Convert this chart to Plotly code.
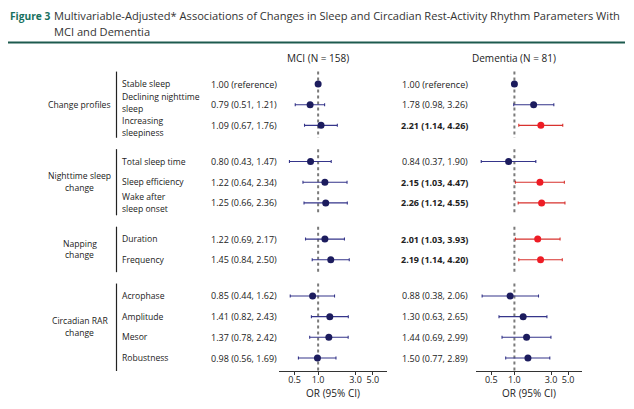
import plotly.graph_objects as go

# ---------------- data ----------------
group_labels = ["Change profiles", "Nighttime sleep<br>change", "Napping<br>change", "Circadian RAR<br>change"]
row_labels = ["Stable sleep", "Declining nighttime<br>sleep", "Increasing<br>sleepiness",
              "Total sleep time", "Sleep efficiency", "Wake after<br>sleep onset",
              "Duration", "Frequency",
              "Acrophase", "Amplitude", "Mesor", "Robustness"]
row_group = [0, 0, 0, 1, 1, 1, 2, 2, 3, 3, 3, 3]
reference_row = [True] + [False] * 11

mci_or = [1.00, 0.79, 1.09, 0.80, 1.22, 1.25, 1.22, 1.45, 0.85, 1.41, 1.37, 0.98]
mci_lo = [None, 0.51, 0.67, 0.43, 0.64, 0.66, 0.69, 0.84, 0.44, 0.82, 0.78, 0.56]
mci_hi = [None, 1.21, 1.76, 1.47, 2.34, 2.36, 2.17, 2.50, 1.62, 2.43, 2.42, 1.69]

dem_or = [1.00, 1.78, 2.21, 0.84, 2.15, 2.26, 2.01, 2.19, 0.88, 1.30, 1.44, 1.50]
dem_lo = [None, 0.98, 1.14, 0.37, 1.03, 1.12, 1.03, 1.14, 0.38, 0.63, 0.69, 0.77]
dem_hi = [None, 3.26, 4.26, 1.90, 4.47, 4.55, 3.93, 4.20, 2.06, 2.65, 2.99, 2.89]

panel_titles = ["MCI (N = 158)", "Dementia (N = 81)"]
tick_vals = [0.5, 1.0, 3.0, 5.0]
tick_text = ["0.5", "1.0", "3.0", "5.0"]
null_value = 1.0
axis_title = "OR (95% CI)"
fig_label = "Figure 3"
fig_title_lines = ["Multivariable-Adjusted* Associations of Changes in Sleep and Circadian "
                   "Rest-Activity Rhythm Parameters With",
                   "MCI and Dementia"]

# ---------------- layout helpers ----------------
W, H = 634, 409
OFF = 8  # page body margin
GROUP_GAP = 0.75
ypos = [i + g * GROUP_GAP for i, g in enumerate(row_group)]

NAVY = "#1c1c5e"
NAVY_LINE = "#35358a"
RED = "#ee1c25"
RED_LINE = "#d8322e"
TXT = "#222222"
FONT = "Open Sans"


def px_x(p):
    return (p - OFF) / W


def px_y(p):
    return (H - (p - OFF)) / H


y_top_px, y_bot_px = 66, 371
row0_px, step_px = 84, (358 - 84) / ypos[-1]
y_range = [(y_bot_px - row0_px) / step_px, (y_top_px - row0_px) / step_px]
LINE_HALF = 5.9 / step_px   # half line spacing for two-line labels, in row units
NUDGE = 1.6 / step_px       # separation nudge for adjacent two-line labels

fig = go.Figure()
annotations = []
shapes = []


def add_label(text, x, y, anchor, size=8.6):
    lines = text.split("<br>")
    n = len(lines)
    for k, ln in enumerate(lines):
        dy = (k - (n - 1) / 2) * 2 * LINE_HALF
        annotations.append(dict(
            x=x, xref="paper", y=y + dy, yref="y", text=ln, showarrow=False,
            xanchor=anchor, yanchor="middle", borderpad=0,
            font=dict(family=FONT, size=size, color=TXT)))


panels = [
    ("x", mci_or, mci_lo, mci_hi, (279, 387), 278),
    ("x2", dem_or, dem_lo, dem_hi, (476, 582), 469),
]

# dotted null lines per group (drawn first, beneath points)
group_spans = []
for g in range(len(group_labels)):
    ys = [ypos[i] for i in range(len(ypos)) if row_group[i] == g]
    y0, y1 = min(ys) - 0.6, max(ys) + 0.6
    if g == len(group_labels) - 1:
        y1 = y_range[0]
    group_spans.append((y0, y1, (min(ys) + max(ys)) / 2))

for xa, *_ in panels:
    xs, ys = [], []
    for y0, y1, _ in group_spans:
        xs += [null_value, null_value, None]
        ys += [y0, y1, None]
    fig.add_trace(go.Scatter(x=xs, y=ys, mode="lines", xaxis=xa, yaxis="y",
                             line=dict(color="#7a7a7a", width=2, dash="dot"),
                             showlegend=False, hoverinfo="skip"))

for pi, (xa, est, lo, hi, dom, txt_right) in enumerate(panels):
    sig = [(l is not None and l > 1) for l in lo]
    for is_sig in (False, True):
        idx = [i for i in range(len(est)) if sig[i] == is_sig]
        if not idx:
            continue
        fig.add_trace(go.Scatter(
            x=[est[i] for i in idx],
            y=[ypos[i] for i in idx],
            mode="markers",
            xaxis=xa, yaxis="y",
            marker=dict(color=RED if is_sig else NAVY, size=7),
            error_x=dict(
                type="data", symmetric=False,
                array=[(hi[i] - est[i]) if hi[i] is not None else None for i in idx],
                arrayminus=[(est[i] - lo[i]) if lo[i] is not None else None for i in idx],
                color=RED_LINE if is_sig else NAVY_LINE,
                thickness=1.1, width=1.5,
            ),
            showlegend=False, hoverinfo="skip",
        ))
    for i in range(len(est)):
        if reference_row[i]:
            s = f"{est[i]:.2f} (reference)"
        else:
            s = f"{est[i]:.2f} ({lo[i]:.2f}, {hi[i]:.2f})"
        if sig[i]:
            s = f"<b>{s}</b>"
        annotations.append(dict(
            x=px_x(txt_right), xref="paper", y=ypos[i], yref="y",
            text=s, showarrow=False, xanchor="right", yanchor="middle", borderpad=0,
            font=dict(family=FONT, size=9, color=TXT)))
    annotations.append(dict(
        x=0, xref=xa, y=px_y(58), yref="paper", text=panel_titles[pi],
        showarrow=False, xanchor="center", yanchor="middle",
        font=dict(family=FONT, size=10, color=TXT)))

# group brackets and labels
for g, glabel in enumerate(group_labels):
    y0, y1, yc = group_spans[g]
    shapes.append(dict(type="line", xref="paper", yref="y",
                       x0=px_x(116.5), x1=px_x(116.5), y0=y0, y1=y1,
                       line=dict(color="#222222", width=1.2)))
    add_label(glabel, px_x(79.5), yc, "center")

# row labels; adjacent multi-line labels are pushed slightly apart
multi = ["<br>" in lab for lab in row_labels]
for i, lab in enumerate(row_labels):
    shift = 0.0
    if multi[i] and i + 1 < len(row_labels) and multi[i + 1] and ypos[i + 1] - ypos[i] <= 1.01:
        shift -= NUDGE
    if multi[i] and i > 0 and multi[i - 1] and ypos[i] - ypos[i - 1] <= 1.01:
        shift += NUDGE
    add_label(lab, px_x(121), ypos[i] + shift, "left")

# figure title
annotations.append(dict(x=px_x(8.5), xref="paper", y=px_y(16), yref="paper",
                        text=f"<b>{fig_label}</b>", showarrow=False,
                        xanchor="left", yanchor="middle", borderpad=0,
                        font=dict(family=FONT, size=10.2, color="#17705e")))
for k, (ln, ypx) in enumerate(zip(fig_title_lines, (16, 31.5))):
    annotations.append(dict(x=px_x(53), xref="paper", y=px_y(ypx), yref="paper",
                            text=ln, showarrow=False, align="left",
                            xanchor="left", yanchor="middle", borderpad=0,
                            font=dict(family=FONT, size=11.1, color="#333333")))
shapes.append(dict(type="line", xref="paper", yref="paper",
                   x0=px_x(8), x1=px_x(625), y0=px_y(42.5), y1=px_y(42.5),
                   line=dict(color="#1d5a4e", width=2)))


def xaxis_cfg(dom):
    return dict(
        type="log", range=[-0.5, 0.88],
        domain=[px_x(dom[0]), px_x(dom[1])], anchor="y",
        tickvals=tick_vals, ticktext=tick_text,
        ticks="outside", ticklen=3, tickwidth=1, tickcolor="#333333",
        ticklabelstandoff=-3,
        showline=True, linecolor="#333333", linewidth=1,
        showgrid=False, zeroline=False,
        tickfont=dict(family=FONT, size=9, color=TXT),
        title=dict(text=axis_title, standoff=2, font=dict(family=FONT, size=10, color=TXT)),
        automargin=False, fixedrange=True,
    )


fig.update_layout(
    width=W, height=H,
    margin=dict(l=0, r=0, t=0, b=0),
    paper_bgcolor="white", plot_bgcolor="white",
    xaxis=xaxis_cfg(panels[0][4]),
    xaxis2=xaxis_cfg(panels[1][4]),
    yaxis=dict(range=y_range, domain=[px_y(y_bot_px), px_y(y_top_px)],
               visible=False, showgrid=False, zeroline=False, fixedrange=True),
    annotations=annotations,
    shapes=shapes,
    font=dict(family=FONT, color=TXT),
)

fig.write_html("out.html")
